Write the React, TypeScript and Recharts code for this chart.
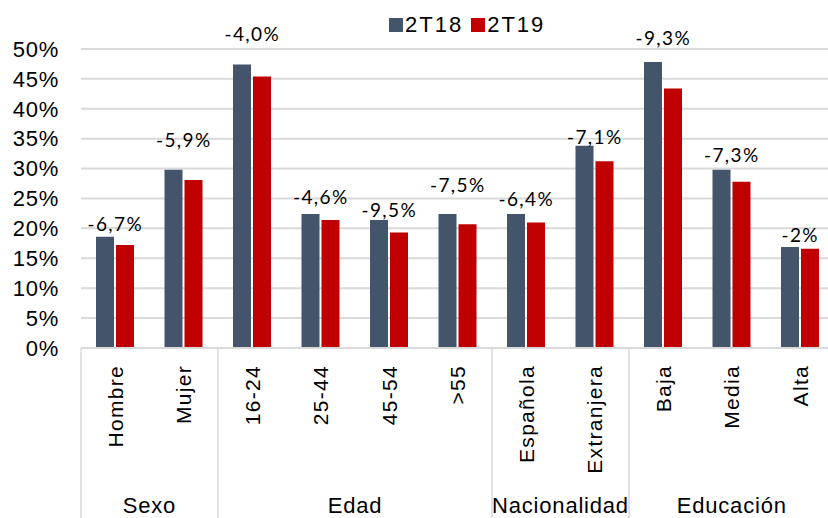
import React from 'react';
import { ComposedChart, Bar, Line, XAxis, YAxis, CartesianGrid, Legend } from 'recharts';

const categories = ['Hombre', 'Mujer', '16-24', '25-44', '45-54', '>55', 'Española', 'Extranjera', 'Baja', 'Media', 'Alta'];
const groups = ['Sexo', 'Sexo', 'Edad', 'Edad', 'Edad', 'Edad', 'Nacionalidad', 'Nacionalidad', 'Educación', 'Educación', 'Educación'];
const values2T18 = [18.6, 29.8, 47.4, 22.4, 21.4, 22.4, 22.4, 33.8, 47.8, 29.8, 16.9];
const values2T19 = [17.2, 28.1, 45.4, 21.4, 19.3, 20.7, 21.0, 31.2, 43.4, 27.8, 16.6];
const changeLabels = ['-6,7%', '-5,9%', '-4,0%', '-4,6%', '-9,5%', '-7,5%', '-6,4%', '-7,1%', '-9,3%', '-7,3%', '-2%'];
// value level (in %) at which each change label sits
const labelLevels = [20.7, 34.7, 52.4, 25.3, 23.0, 27.2, 24.8, 35.2, 51.8, 32.3, 18.9];
const yTicks = [0, 5, 10, 15, 20, 25, 30, 35, 40, 45, 50];
const Y_MAX = 55;

const data = categories.map((c, i) => ({
  cat: c,
  group: groups[i],
  a: values2T18[i],
  b: values2T19[i],
  change: changeLabels[i],
  labelPos: labelLevels[i],
}));

const CHART_W = 840;
const CHART_H = 518;
const MARGIN = { top: 19, right: 5.5, bottom: 0, left: 21 };
const Y_W = 60;
const X_H = 170;
const PLOT_W = CHART_W - MARGIN.left - MARGIN.right - Y_W;
const PLOT_H = CHART_H - MARGIN.top - MARGIN.bottom - X_H;

const DARK = '#44546A';
const RED = '#C00000';
const GRID = '#d9d9d9';
const SANS = '"Liberation Sans", Arial, sans-serif';

function CategoryTick(props: any) {
  const { x, y, payload, index } = props;
  const i = payload && typeof payload.index === 'number' ? payload.index : index;
  const half = payload && typeof payload.offset === 'number' && payload.offset > 0 ? payload.offset : PLOT_W / categories.length / 2;
  const band = half * 2;
  const ly = y + 17;
  const g = groups[i];
  const isFirst = i === 0 || groups[i - 1] !== g;
  const n = groups.filter((q) => q === g).length;
  const left = x - half;
  return (
    <g>
      <text
        x={x}
        y={ly}
        transform={`rotate(-90 ${x} ${ly})`}
        textAnchor="end"
        dy="0.36em"
        fontFamily={SANS}
        fontSize={21}
        letterSpacing={1.3}
        fill="#000"
      >
        {payload.value}
      </text>
      {isFirst && (
        <line x1={left} x2={left} y1={y} y2={y + 175} stroke={GRID} strokeWidth={1.5} />
      )}
      {isFirst && (
        <text
          x={left + (n * band) / 2}
          y={y + 165}
          textAnchor="middle"
          fontFamily={SANS}
          fontSize={22}
          letterSpacing={0.8}
          fill="#000"
        >
          {g}
        </text>
      )}
      {i === categories.length - 1 && (
        <line x1={x + half} x2={x + half} y1={y} y2={y + 175} stroke={GRID} strokeWidth={1.5} />
      )}
    </g>
  );
}

function ChangeLabel(props: any) {
  const { cx, cy, payload, index } = props;
  if (cx == null || cy == null) return <g key={`l${index}`} />;
  return (
    <text
      key={`l${index}`}
      x={cx}
      y={cy}
      dy="0.36em"
      textAnchor="middle"
      fontFamily="Lato, sans-serif"
      fontSize={19}
      letterSpacing={1.4}
      fill="#000"
    >
      {payload.change}
    </text>
  );
}

function LegendContent(props: any) {
  const items = (props.payload || []).filter((p: any) => p.type !== 'none');
  return (
    <div style={{ display: 'flex', alignItems: 'center', fontFamily: SANS, fontSize: 22, lineHeight: '26px', color: '#000' }}>
      {items.map((it: any, k: number) => (
        <div key={k} style={{ display: 'flex', alignItems: 'center', marginRight: 8 }}>
          <span style={{ width: 14, height: 14, background: it.color, display: 'inline-block', marginRight: 2 }} />
          <span style={{ letterSpacing: 2, whiteSpace: 'nowrap' }}>{it.value}</span>
        </div>
      ))}
    </div>
  );
}

const gridRows = (args: any) => {
  const sc = args && args.yAxis ? args.yAxis.scale : undefined;
  let f: ((v: number) => number) | null = null;
  if (typeof sc === 'function') f = (v: number) => sc(v);
  else if (sc && typeof sc.map === 'function') f = (v: number) => sc.map(v);
  if (f) {
    const r = yTicks.map((t) => f!(t));
    if (r.every((v) => typeof v === 'number' && Number.isFinite(v))) return r;
  }
  const off = args && args.offset;
  const top = off && Number.isFinite(off.top) ? off.top : MARGIN.top;
  const h = off && Number.isFinite(off.height) ? off.height : PLOT_H;
  return yTicks.map((t) => top + h * (1 - t / Y_MAX));
};
const gridCols = () => [];

export default function App() {
  return (
    <div style={{ position: 'absolute', left: 0, top: 0, width: 828, height: 518, overflow: 'hidden', background: '#fff' }}>
      <ComposedChart width={CHART_W} height={CHART_H} data={data} margin={MARGIN} barGap={2}>
        <CartesianGrid
          vertical={false}
          horizontal={true}
          horizontalCoordinatesGenerator={gridRows}
          verticalCoordinatesGenerator={gridCols}
          stroke={GRID}
          strokeWidth={2}
        />
        <XAxis
          dataKey="cat"
          type="category"
          height={X_H}
          interval={0}
          tickLine={false}
          tickSize={0}
          tickMargin={0}
          axisLine={{ stroke: GRID, strokeWidth: 2 }}
          tick={<CategoryTick />}
        />
        <YAxis
          type="number"
          domain={[0, Y_MAX]}
          ticks={yTicks}
          interval={0}
          width={Y_W}
          axisLine={false}
          tickLine={false}
          tickSize={0}
          tickMargin={22}
          tickFormatter={(v: number) => `${v}%`}
          tick={{ fontFamily: SANS, fontSize: 22, fill: '#000', letterSpacing: 0.7 }}
        />
        <Legend
          layout="horizontal"
          verticalAlign="middle"
          align="center"
          content={<LegendContent />}
          wrapperStyle={{ top: 12, left: 389, width: 'auto', height: 'auto' }}
        />
        <Bar dataKey="a" name="2T18" fill={DARK} barSize={18} isAnimationActive={false} />
        <Bar dataKey="b" name="2T19" fill={RED} barSize={18} isAnimationActive={false} />
        <Line
          dataKey="labelPos"
          stroke="none"
          legendType="none"
          dot={ChangeLabel}
          activeDot={false}
          isAnimationActive={false}
        />
      </ComposedChart>
    </div>
  );
}
